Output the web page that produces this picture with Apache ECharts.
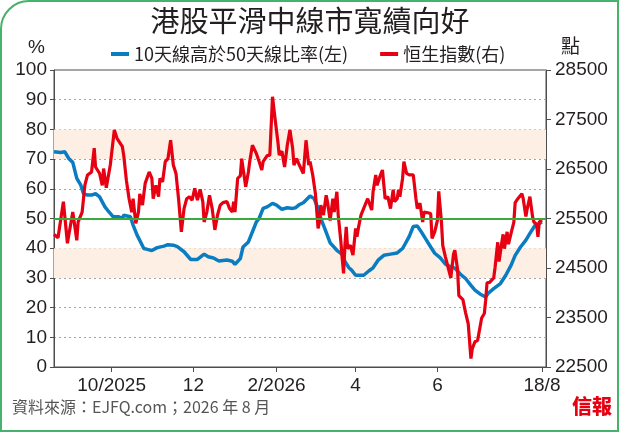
<!DOCTYPE html>
<html>
<head>
<meta charset="utf-8">
<script src="https://cdn.jsdelivr.net/npm/echarts@6/dist/echarts.min.js"></script>
<style>
  html, body { margin: 0; padding: 0; background: #fff; }
  #main { width: 620px; height: 433px; }
</style>
</head>
<body>
<div id="main"></div>
<script>
// x-axis ticks
var tickDates = ['2025-10-01', '2025-12-01', '2026-02-01', '2026-04-01', '2026-06-01', '2026-08-18'];
var tickLabels = ['10/2025', '12', '2/2026', '4', '6', '18/8'];

// 10天線高於50天線比率 (%)
var breadthDates = [
  '2025-08-19','2025-08-24','2025-08-27','2025-08-30','2025-09-02','2025-09-05','2025-09-08','2025-09-10',
  '2025-09-13','2025-09-16','2025-09-19','2025-09-22','2025-09-26','2025-09-29','2025-10-02','2025-10-06',
  '2025-10-09','2025-10-10','2025-10-15','2025-10-17','2025-10-20','2025-10-25','2025-10-27','2025-10-31',
  '2025-11-04','2025-11-09','2025-11-12','2025-11-16','2025-11-19','2025-11-24','2025-11-29','2025-12-04',
  '2025-12-09','2025-12-12','2025-12-16','2025-12-20','2025-12-26','2025-12-30','2026-01-01','2026-01-05',
  '2026-01-07','2026-01-11','2026-01-14','2026-01-17','2026-01-19','2026-01-22','2026-01-25','2026-01-29',
  '2026-02-01','2026-02-05','2026-02-09','2026-02-13','2026-02-15','2026-02-18','2026-02-21','2026-02-26',
  '2026-03-01','2026-03-04','2026-03-06','2026-03-09','2026-03-13','2026-03-18','2026-03-22','2026-03-24',
  '2026-03-27','2026-03-29','2026-04-01','2026-04-07','2026-04-11','2026-04-14','2026-04-18','2026-04-22',
  '2026-04-27','2026-05-02','2026-05-06','2026-05-08','2026-05-11','2026-05-14','2026-05-17','2026-05-20',
  '2026-05-23','2026-05-27','2026-05-30','2026-06-03','2026-06-07','2026-06-11','2026-06-14','2026-06-18',
  '2026-06-22','2026-06-26','2026-06-29','2026-07-03','2026-07-07','2026-07-09','2026-07-13','2026-07-18',
  '2026-07-22','2026-07-26','2026-07-29','2026-08-02','2026-08-06','2026-08-09','2026-08-13','2026-08-16',
  '2026-08-18'
];
var breadthValues = [
  72.5, 72.2, 72.5, 70.2, 68.9, 63.5, 61.2, 58.4,
  57.9, 57.9, 58.4, 57.3, 53.9, 52.2, 50.6, 50.6,
  50.0, 51.1, 50.6, 47.8, 44.4, 39.9, 39.7, 39.2,
  40.2, 40.7, 41.2, 41.0, 40.5, 38.8, 36.2, 36.2,
  38.0, 37.1, 36.7, 35.7, 36.0, 35.6, 34.6, 36.5,
  40.4, 42.1, 45.5, 48.9, 50.0, 53.4, 53.9, 55.1,
  54.5, 53.1, 53.6, 53.4, 53.6, 54.7, 55.3, 57.6,
  56.7, 53.4, 50.0, 46.6, 41.8, 39.3, 37.9, 35.5,
  33.4, 32.6, 30.9, 30.9, 32.4, 33.4, 36.1, 37.6,
  38.0, 38.4, 39.9, 41.5, 44.0, 47.3, 47.5, 45.5,
  43.3, 40.4, 38.3, 36.8, 34.6, 33.7, 33.3, 31.3,
  29.8, 27.5, 25.9, 24.5, 23.6, 24.9, 26.4, 28.1,
  30.9, 34.3, 37.6, 40.4, 42.7, 45.0, 47.8, 48.3,
  48.8
];

// 恒生指數 (點)
var hsiDates = [
  '2025-08-19','2025-08-22','2025-08-26','2025-08-29','2025-09-02','2025-09-05','2025-09-06','2025-09-09',
  '2025-09-11','2025-09-13','2025-09-16','2025-09-18','2025-09-19','2025-09-22','2025-09-24','2025-09-25',
  '2025-09-27','2025-09-30','2025-10-03','2025-10-05','2025-10-09','2025-10-10','2025-10-12','2025-10-14',
  '2025-10-16','2025-10-17','2025-10-19','2025-10-21','2025-10-22','2025-10-24','2025-10-26','2025-10-29',
  '2025-10-31','2025-11-01','2025-11-03','2025-11-05','2025-11-06','2025-11-08','2025-11-10','2025-11-12',
  '2025-11-14','2025-11-16','2025-11-18','2025-11-20','2025-11-21','2025-11-22','2025-11-24','2025-11-26',
  '2025-11-28','2025-11-30','2025-12-02','2025-12-04','2025-12-06','2025-12-08','2025-12-09','2025-12-11',
  '2025-12-13','2025-12-15','2025-12-17','2025-12-19','2025-12-21','2025-12-23','2025-12-26','2025-12-28',
  '2025-12-30','2025-12-31','2026-01-01','2026-01-03','2026-01-05','2026-01-06','2026-01-09','2026-01-11',
  '2026-01-12','2026-01-14','2026-01-17','2026-01-19','2026-01-21','2026-01-22','2026-01-25','2026-01-27',
  '2026-01-29','2026-01-31','2026-02-02','2026-02-03','2026-02-05','2026-02-07','2026-02-09','2026-02-11',
  '2026-02-13','2026-02-14','2026-02-16','2026-02-18','2026-02-21','2026-02-23','2026-02-25','2026-02-26',
  '2026-02-28','2026-03-02','2026-03-04','2026-03-05','2026-03-06','2026-03-08','2026-03-10','2026-03-11',
  '2026-03-13','2026-03-15','2026-03-16','2026-03-18','2026-03-19','2026-03-21','2026-03-22','2026-03-23',
  '2026-03-24','2026-03-25','2026-03-26','2026-03-28','2026-03-30','2026-04-01','2026-04-02','2026-04-03',
  '2026-04-05','2026-04-08','2026-04-10','2026-04-11','2026-04-13','2026-04-14','2026-04-16','2026-04-17',
  '2026-04-19','2026-04-21','2026-04-23','2026-04-25','2026-04-26','2026-04-27','2026-04-29','2026-04-30',
  '2026-05-02','2026-05-03','2026-05-04','2026-05-06','2026-05-07','2026-05-09','2026-05-11','2026-05-14',
  '2026-05-16','2026-05-17','2026-05-19','2026-05-21','2026-05-22','2026-05-24','2026-05-27','2026-05-28',
  '2026-05-30','2026-06-01','2026-06-02','2026-06-04','2026-06-05','2026-06-07','2026-06-09','2026-06-11',
  '2026-06-13','2026-06-14','2026-06-16','2026-06-17','2026-06-20','2026-06-22','2026-06-24','2026-06-26',
  '2026-06-27','2026-06-29','2026-06-30','2026-07-01','2026-07-03','2026-07-04','2026-07-06','2026-07-07',
  '2026-07-08','2026-07-10','2026-07-13','2026-07-14','2026-07-16','2026-07-17','2026-07-19','2026-07-20',
  '2026-07-21','2026-07-23','2026-07-24','2026-07-26','2026-07-28','2026-07-29','2026-07-31','2026-08-03',
  '2026-08-04','2026-08-06','2026-08-07','2026-08-09','2026-08-11','2026-08-12','2026-08-14','2026-08-15',
  '2026-08-16','2026-08-18'
];
var hsiValues = [
  25180, 25110, 25840, 25000, 25630, 25060, 25430, 25630,
  26170, 26380, 26440, 26920, 26540, 26410, 26170, 26510,
  26120, 26580, 27290, 27120, 26950, 26780, 26270, 25900,
  25630, 25900, 25400, 25630, 26000, 25770, 26210, 26440,
  26310, 25900, 26170, 25940, 26310, 26240, 26650, 26710,
  27080, 26580, 26410, 25870, 25840, 25230, 25700, 25900,
  25940, 25870, 26110, 25870, 26090, 25840, 25430, 25630,
  25970, 25700, 25270, 25570, 25770, 25820, 25840, 25700,
  25630, 25840, 25630, 26310, 26360, 26710, 26140, 26440,
  26650, 26980, 26810, 26650, 26480, 26650, 26770, 26780,
  27960, 27490, 27050, 26780, 26860, 26540, 26980, 27290,
  26920, 26580, 26710, 26580, 26410, 27080, 26580, 26650,
  26380, 26000, 25300, 25430, 25770, 25570, 25970, 25840,
  25460, 25900, 25630, 26040, 25570, 25030, 24690, 24390,
  24960, 25330, 24890, 24960, 24760, 25300, 25130, 25300,
  25570, 25770, 25900, 25870, 25670, 26040, 26380, 26170,
  26340, 26480, 25900, 25940, 25900, 25700, 26080, 25840,
  25900, 26080, 25940, 26310, 26650, 26410, 26380, 26380,
  25900, 25700, 25810, 25430, 25630, 25620, 25600, 25100,
  25230, 25460, 26050, 25430, 24950, 24720, 24510, 24300,
  24780, 24860, 24480, 23940, 23860, 23600, 23370, 22670,
  22870, 23010, 22970, 23040, 23340, 23490, 23580, 23850,
  24200, 24210, 24300, 24510, 25020, 24630, 25010, 25180,
  24890, 25230, 24980, 25210, 25420, 25820, 25900, 26000,
  25900, 25540, 25700, 25940, 25530, 25430, 25380, 25130,
  25430, 25470
];

var tickTimes = tickDates.map(function (d) { return Date.parse(d); });
var breadthData = breadthDates.map(function (d, i) { return [Date.parse(d), breadthValues[i]]; });
var hsiData = hsiDates.map(function (d, i) { return [Date.parse(d), hsiValues[i]]; });

var numFont = "'Liberation Sans Narrow', 'Liberation Sans', Arial, sans-serif";
var cjkFont = "'Noto Sans CJK TC', 'Noto Sans CJK SC', sans-serif";
var axisColor = '#4d4d4d';

var myChart = echarts.init(document.getElementById('main'));

var option = {
  animation: false,
  backgroundColor: '#fff',
  title: {
    text: '港股平滑中線市寬續向好',
    left: 'center',
    top: 1,
    textStyle: { fontFamily: cjkFont, fontSize: 29, fontWeight: 'normal', color: '#231f20' }
  },
  legend: {
    left: 106,
    top: 40,
    itemWidth: 18,
    itemHeight: 4,
    itemGap: 32,
    icon: 'rect',
    textStyle: { fontFamily: cjkFont, fontSize: 18, color: '#231f20' },
    data: ['10天線高於50天線比率(左)', '恒生指數(右)']
  },
  grid: {
    left: 54, right: 74, top: 70, bottom: 66,
    show: true, borderColor: axisColor, borderWidth: 1,
    containLabel: false
  },
  xAxis: {
    type: 'value',
    min: Date.parse('2025-08-19'),
    max: Date.parse('2026-08-21'),
    axisLine: { show: true, lineStyle: { color: axisColor } },
    axisTick: { show: true, length: 5, customValues: tickTimes, lineStyle: { color: axisColor } },
    axisLabel: {
      customValues: tickTimes,
      margin: 9,
      fontFamily: numFont, fontSize: 19, color: '#231f20',
      formatter: function (v) {
        var i = tickTimes.indexOf(v);
        return i >= 0 ? tickLabels[i] : '';
      }
    },
    splitLine: { show: false }
  },
  yAxis: [
    {
      type: 'value', min: 0, max: 100, interval: 10,
      axisLine: { show: true, lineStyle: { color: axisColor } },
      axisTick: { show: true, length: 4, lineStyle: { color: axisColor } },
      axisLabel: { margin: 7, fontFamily: numFont, fontSize: 19, color: '#231f20' },
      splitLine: { show: true, lineStyle: { color: '#a6a6a6', type: [2, 3], width: 1 } }
    },
    {
      type: 'value', min: 22500, max: 28500, interval: 1000,
      axisLine: { show: true, lineStyle: { color: axisColor } },
      axisTick: { show: true, length: 5, lineStyle: { color: axisColor } },
      axisLabel: {
        margin: 9, fontFamily: numFont, fontSize: 19, color: '#231f20',
        formatter: function (v) { return String(v); }
      },
      splitLine: { show: false }
    }
  ],
  graphic: [
    {
      type: 'rect', silent: true, z: -1,
      shape: { x: 1, y: 1, width: 617, height: 430, r: [28, 0, 0, 0] },
      style: { fill: 'none', stroke: '#45b36b', lineWidth: 2 }
    },
    {
      type: 'text', left: 28, top: 38,
      style: { text: '%', fontFamily: numFont, fontSize: 19, fill: '#231f20' }
    },
    {
      type: 'text', left: 561, top: 36,
      style: { text: '點', fontFamily: cjkFont, fontSize: 19, fill: '#231f20' }
    },
    {
      type: 'text', left: 12, top: 399,
      style: { text: '資料來源：EJFQ.com；2026 年 8 月', fontFamily: cjkFont, fontSize: 16, fill: '#555' }
    },
    {
      type: 'text', left: 572, top: 396,
      style: { text: '信報', fontFamily: cjkFont, fontSize: 20, fontWeight: 900, fill: '#e60012' }
    }
  ],
  series: [
    {
      name: '10天線高於50天線比率(左)',
      type: 'line',
      yAxisIndex: 0,
      data: breadthData,
      showSymbol: false,
      color: '#0a7dc2',
      lineStyle: { width: 3.5, color: '#0a7dc2' },
      markArea: {
        silent: true,
        itemStyle: { color: '#fdefe3' },
        data: [
          [{ yAxis: 70 }, { yAxis: 80 }],
          [{ yAxis: 30 }, { yAxis: 40 }]
        ]
      },
      markLine: {
        silent: true,
        symbol: 'none',
        label: { show: false },
        lineStyle: { color: '#3aaa3a', type: 'solid', width: 2 },
        data: [{ yAxis: 50 }]
      }
    },
    {
      name: '恒生指數(右)',
      type: 'line',
      yAxisIndex: 1,
      data: hsiData,
      showSymbol: false,
      color: '#e60012',
      lineStyle: { width: 3.2, color: '#e60012' }
    }
  ]
};

myChart.setOption(option);
window.addEventListener('resize', function () { myChart.resize(); });
</script>
</body>
</html>
